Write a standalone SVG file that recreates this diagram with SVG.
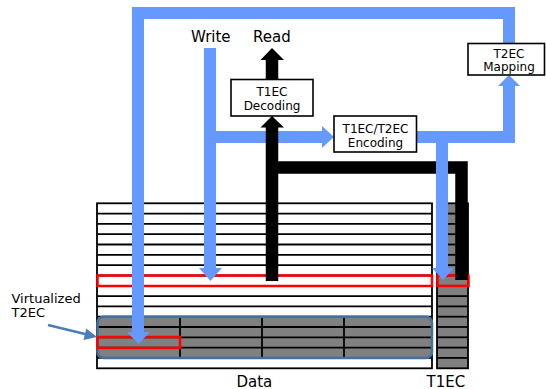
<svg xmlns="http://www.w3.org/2000/svg" width="546" height="389" viewBox="0 0 546 389">
<style>
text{font-family:"DejaVu Sans","Verdana",sans-serif;fill:#000}
.lbl{font-size:15px}
.box rect{fill:#fff;stroke:#000;stroke-width:1.6}
.box text{font-size:12px;text-anchor:middle}
.row{stroke:#000;stroke-width:1.8}
.blue{fill:none;stroke:#6699FF;stroke-width:12}
.bluehead{fill:#6699FF}
.blk{fill:none;stroke:#000;stroke-width:12.5}
.red{fill:none;stroke:#FF0000;stroke-width:2.5}
</style>
<rect width="546" height="389" fill="#fff"/>

<g id="data-grid">
  <rect x="97" y="203.3" width="335" height="165" fill="#fff" stroke="#000" stroke-width="1.8"/>
  <g class="row">
    <line x1="97" y1="213.6" x2="432" y2="213.6"/>
    <line x1="97" y1="223.9" x2="432" y2="223.9"/>
    <line x1="97" y1="234.2" x2="432" y2="234.2"/>
    <line x1="97" y1="244.5" x2="432" y2="244.5"/>
    <line x1="97" y1="254.8" x2="432" y2="254.8"/>
    <line x1="97" y1="265.1" x2="432" y2="265.1"/>
    <line x1="97" y1="275.5" x2="432" y2="275.5"/>
    <line x1="97" y1="285.8" x2="432" y2="285.8"/>
    <line x1="97" y1="296.1" x2="432" y2="296.1"/>
    <line x1="97" y1="306.4" x2="432" y2="306.4"/>
    <line x1="97" y1="316.7" x2="432" y2="316.7"/>
    <line x1="97" y1="357.9" x2="432" y2="357.9"/>
  </g>
</g>

<g id="virtualized-block">
  <rect x="97" y="316.7" width="335" height="41.2" rx="6" fill="#808080"/>
  <g class="row">
    <line x1="97" y1="327" x2="432" y2="327"/>
    <line x1="97" y1="337.3" x2="432" y2="337.3"/>
    <line x1="97" y1="347.6" x2="432" y2="347.6"/>
    <line x1="180" y1="316.7" x2="180" y2="357.9"/>
    <line x1="262" y1="316.7" x2="262" y2="357.9"/>
    <line x1="344" y1="316.7" x2="344" y2="357.9"/>
  </g>
  <rect x="97.5" y="316.7" width="334.5" height="41.2" rx="6" fill="none" stroke="#41719C" stroke-width="2.5"/>
  <rect x="97.5" y="337" width="82.5" height="11" class="red"/>
</g>

<g id="t1ec-column">
  <rect x="437" y="203.3" width="31" height="165" fill="#808080" stroke="#000" stroke-width="1.8"/>
  <g class="row">
    <line x1="437" y1="213.6" x2="468" y2="213.6"/>
    <line x1="437" y1="223.9" x2="468" y2="223.9"/>
    <line x1="437" y1="234.2" x2="468" y2="234.2"/>
    <line x1="437" y1="244.5" x2="468" y2="244.5"/>
    <line x1="437" y1="254.8" x2="468" y2="254.8"/>
    <line x1="437" y1="265.1" x2="468" y2="265.1"/>
    <line x1="437" y1="275.5" x2="468" y2="275.5"/>
    <line x1="437" y1="285.8" x2="468" y2="285.8"/>
    <line x1="437" y1="296.1" x2="468" y2="296.1"/>
    <line x1="437" y1="306.4" x2="468" y2="306.4"/>
    <line x1="437" y1="316.7" x2="468" y2="316.7"/>
    <line x1="437" y1="327" x2="468" y2="327"/>
    <line x1="437" y1="337.3" x2="468" y2="337.3"/>
    <line x1="437" y1="347.6" x2="468" y2="347.6"/>
    <line x1="437" y1="357.9" x2="468" y2="357.9"/>
  </g>
</g>

<g id="selected-row">
  <rect x="97.5" y="275.5" width="334.5" height="10.5" class="red"/>
  <rect x="437.5" y="275.5" width="31" height="10.5" class="red"/>
</g>

<g id="connectors">
  <!-- write path -->
  <polyline class="blue" points="210,48 210,269"/>
  <polygon class="bluehead" points="199,268 222,268 210.5,281"/>
  <polyline class="blue" points="216,137 323,137"/>
  <polygon class="bluehead" points="322,126 322,148 334,137"/>
  <!-- read path (black) -->
  <polyline class="blk" points="272,281 272,126"/>
  <polygon points="260.5,127.5 284,127.5 272,116" fill="#000"/>
  <polyline class="blk" points="272,79 272,59"/>
  <polygon points="260.5,60 284,60 272,48" fill="#000"/>
  <polyline class="blk" points="278,167.5 461.5,167.5 461.5,280"/>
  <!-- encoding outputs -->
  <polyline class="blue" points="417,137 509,137 509,84"/>
  <polygon class="bluehead" points="498,86 520,86 509,75"/>
  <polyline class="blue" points="442,137 442,269" stroke="#6699FF"/>
  <polygon class="bluehead" points="432,268 454,268 443,280"/>
  <!-- T2EC mapping loop -->
  <polyline class="blue" points="509,44 509,13 138,13 138,333"/>
  <polygon class="bluehead" points="127,332 150,332 138.5,344"/>
  <!-- virtualized label pointer -->
  <line x1="48" y1="325" x2="86" y2="334.2" stroke="#4A7EBB" stroke-width="2.5"/>
  <polygon points="97,337 83.5,340 86.3,328.5" fill="#4A7EBB"/>
</g>

<g id="t1ec-decoding" class="box">
  <rect x="231" y="79.5" width="82" height="36.5"/>
  <text x="272" y="96">T1EC</text>
  <text x="272" y="110">Decoding</text>
</g>

<g id="encoding" class="box">
  <rect x="334" y="116" width="82.5" height="36"/>
  <text x="375.5" y="132.5">T1EC/T2EC</text>
  <text x="375.5" y="146.5">Encoding</text>
</g>

<g id="t2ec-mapping" class="box">
  <rect x="468" y="43.5" width="76.5" height="31.5"/>
  <text x="509" y="57.5">T2EC</text>
  <text x="509" y="71">Mapping</text>
</g>

<g id="labels">
  <text class="lbl" x="191" y="42">Write</text>
  <text class="lbl" x="253" y="42">Read</text>
  <text class="lbl" x="236.5" y="386.5">Data</text>
  <text class="lbl" x="426.5" y="386.5">T1EC</text>
  <text x="11.5" y="303" font-size="13px">Virtualized</text>
  <text x="11.5" y="317" font-size="13px">T2EC</text>
</g>
</svg>
